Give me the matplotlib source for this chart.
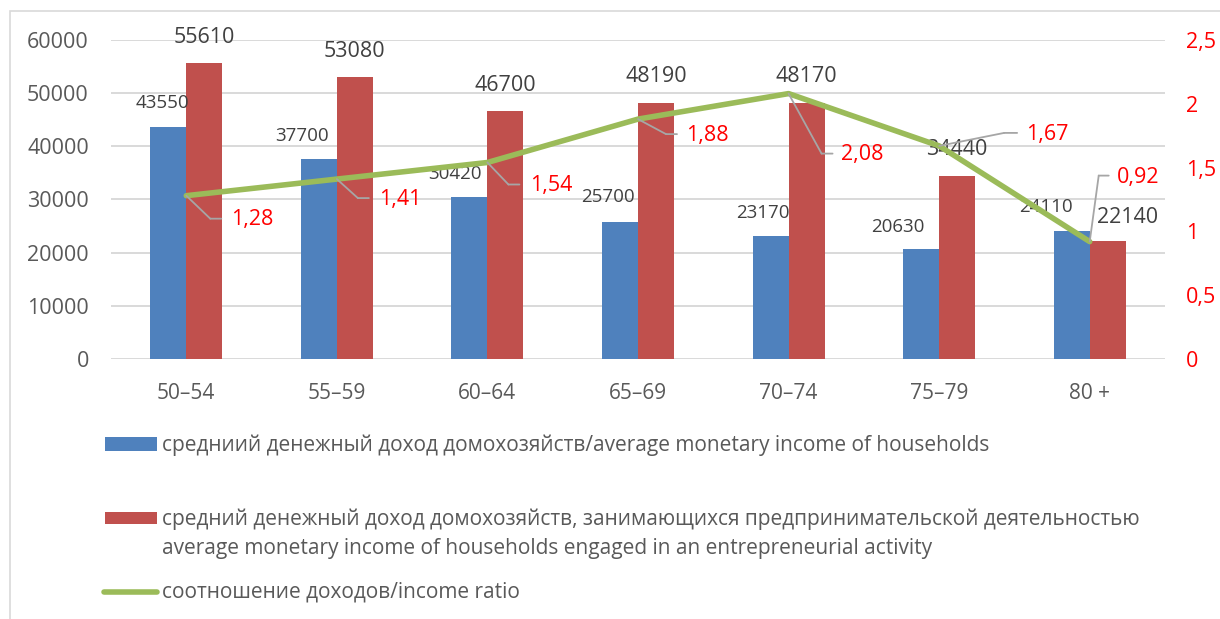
import matplotlib
matplotlib.use('Agg')
import matplotlib.pyplot as plt
import numpy as np
from matplotlib.patches import Rectangle
from matplotlib.lines import Line2D
from matplotlib.transforms import offset_copy

# ---------------- data ----------------
categories = ['50–54', '55–59', '60–64', '65–69', '70–74', '75–79', '80 +']
income_all = [43550, 37700, 30420, 25700, 23170, 20630, 24110]
income_entre = [55610, 53080, 46700, 48190, 48170, 34440, 22140]
ratio = [1.28, 1.41, 1.54, 1.88, 2.08, 1.67, 0.92]
ratio_labels = ['1,28', '1,41', '1,54', '1,88', '2,08', '1,67', '0,92']
left_ticks = [0, 10000, 20000, 30000, 40000, 50000, 60000]
right_ticks = [0, 0.5, 1, 1.5, 2, 2.5]
right_tick_labels = ['0', '0,5', '1', '1,5', '2', '2,5']
legend_labels = [
    'средниий денежный доход домохозяйств/average monetary income of households',
    'средний денежный доход домохозяйств, занимающихся предпринимательской деятельностью\n'
    'average monetary income of households engaged in an entrepreneurial activity',
    'соотношение доходов/income ratio',
]

# ---------------- style ----------------
BLUE = '#4F81BD'
RED = '#C0504D'
GREEN = '#9BBB59'
GRID = '#D9D9D9'
TXT = '#595959'
LBL = '#404040'

plt.rcParams['font.family'] = ['Open Sans', 'DejaVu Sans']

W, H = 1220, 619
fig = plt.figure(figsize=(W / 100, H / 100), dpi=100)

# outer chart border
fig.patches.append(Rectangle((10 / W, -0.1), 1.2, (H - 11) / H + 0.1, transform=fig.transFigure,
                             fill=False, edgecolor='#D9D9D9', lw=1.2))

ax = fig.add_axes([111 / W, (H - 359) / H, 1054 / W, 319 / H])
x = np.arange(len(categories))
bw = 0.239
ax.bar(x - bw / 2, income_all, bw, color=BLUE, zorder=2)
ax.bar(x + bw / 2, income_entre, bw, color=RED, zorder=2)
ax.set_xlim(-0.5, len(categories) - 0.5)
ax.set_ylim(0, 60000)
ax.set_yticks(left_ticks)
ax.set_yticklabels([str(t) for t in left_ticks])
ax.set_xticks(x)
ax.set_xticklabels(categories)
ax.yaxis.grid(True, color=GRID, lw=1.4, zorder=0)
ax.set_axisbelow(True)
for s in ax.spines.values():
    s.set_visible(False)
ax.tick_params(axis='y', length=0, pad=16, labelsize=15.5, labelcolor=TXT)
ax.tick_params(axis='x', length=0, pad=17, labelsize=15, labelcolor=TXT)

# data labels on bars
blue_dx = [-6, -17, -14, -12, -8, -23, -26]
blue_dy = [24, 23, 23, 25, 23, 22, 24]
red_dx = [0, 0, 0, 0, 0, 0, 20]
red_dy = [26, 25, 25, 26, 26, 26, 24]
for i, v in enumerate(income_all):
    ax.annotate(str(v), xy=(x[i] - bw / 2, v), xytext=(blue_dx[i], blue_dy[i]),
                textcoords='offset pixels', ha='center', va='center',
                fontsize=13.5, color=LBL, zorder=5)
for i, v in enumerate(income_entre):
    ax.annotate(str(v), xy=(x[i] + bw / 2, v), xytext=(red_dx[i], red_dy[i]),
                textcoords='offset pixels', ha='center', va='center',
                fontsize=15.5, color=LBL, zorder=5)

# secondary axis with ratio line
ax2 = ax.twinx()
ax2.set_ylim(0, 2.5)
ax2.set_yticks(right_ticks)
ax2.set_yticklabels(right_tick_labels)
for s in ax2.spines.values():
    s.set_visible(False)
ax2.tick_params(axis='y', length=0, pad=15, labelsize=15.5, labelcolor='#FF0000')
ax2.plot(x, ratio, color=GREEN, lw=4, solid_capstyle='round', solid_joinstyle='round', zorder=3)

# ratio labels with leader lines (offsets in pixels: bend, end of leader, text)
bend = [(24, -23), (21, -19), (21, -22), (28, -15), (33, -60), (65, 13), (9, 66)]
lend = [(35, -23), (32, -19), (32, -22), (39, -15), (44, -60), (78, 13), (19, 66)]
toff = [(45, -24), (42, -20), (43, -23), (48, -16), (52, -61), (87, 11), (27, 64)]
for i, r in enumerate(ratio):
    pts = [(0, 0), bend[i], lend[i]]
    for (a, b) in zip(pts[:-1], pts[1:]):
        ax2.annotate('', xy=(x[i], r), xycoords=offset_copy(ax2.transData, fig=fig, x=b[0], y=b[1], units='dots'),
                     xytext=(x[i], r), textcoords=offset_copy(ax2.transData, fig=fig, x=a[0], y=a[1], units='dots'),
                     arrowprops=dict(arrowstyle='-', color='#A6A6A6', lw=1.3, shrinkA=0, shrinkB=0))
    ax2.annotate(ratio_labels[i], xy=(x[i], r), xytext=toff[i], textcoords='offset pixels',
                 ha='left', va='center', fontsize=15.5, color='#FF0000')

# legend (manual layout)
fig.patches.append(Rectangle((105 / W, 1 - 451 / H), 52 / W, 14 / H, transform=fig.transFigure,
                             facecolor=BLUE, edgecolor='none'))
fig.patches.append(Rectangle((105 / W, 1 - 524 / H), 52 / W, 12 / H, transform=fig.transFigure,
                             facecolor=RED, edgecolor='none'))
fig.lines.append(Line2D([104 / W, 157 / W], [1 - 592 / H, 1 - 592 / H], transform=fig.transFigure,
                        color=GREEN, lw=4, solid_capstyle='round'))
leg_fs = 15
fig.text(162 / W, 1 - 445 / H, legend_labels[0], ha='left', va='center', fontsize=leg_fs, color=TXT)
fig.text(162 / W, 1 - 534 / H, legend_labels[1], ha='left', va='center', fontsize=leg_fs, color=TXT,
         linespacing=1.5)
fig.text(162 / W, 1 - 592 / H, legend_labels[2], ha='left', va='center', fontsize=leg_fs, color=TXT)

fig.savefig('out.png', dpi=100)
